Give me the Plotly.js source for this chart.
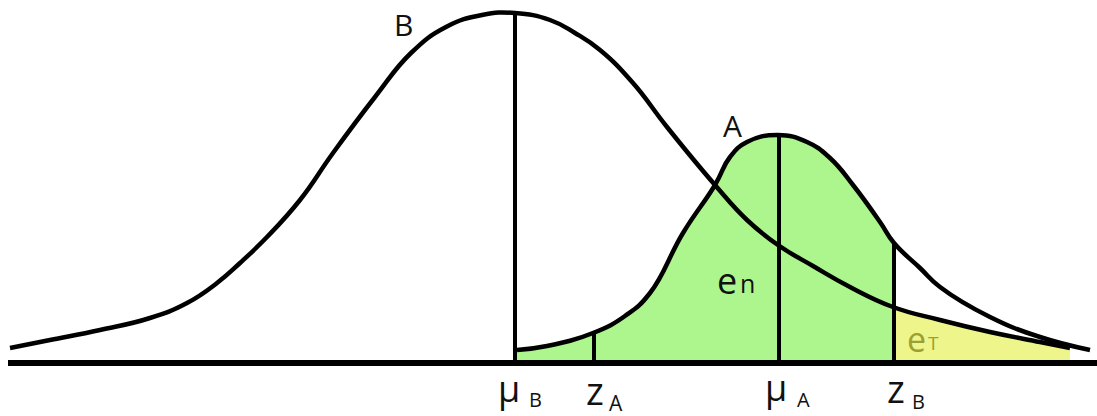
<!DOCTYPE html>
<html>
<head>
<meta charset="utf-8">
<script src="https://cdn.plot.ly/plotly-3.0.1.min.js"></script>
<style>
  html, body { margin: 0; padding: 0; background: #fff; }
  #chart { width: 1097px; height: 416px; }
</style>
</head>
<body>
<div id="chart"></div>
<script>
// curve B (wide): x position, height above baseline
const bX = [10, 50, 100, 150, 187, 217, 240, 267, 300, 333, 375, 411, 446, 482, 515, 550, 575, 600, 633, 667, 715, 747, 778, 813, 850, 893, 940, 990, 1040, 1070];
const bY = [15, 23, 33, 45, 60, 80, 100, 126, 163, 210, 266, 310, 336, 348, 350, 343, 330, 313, 280, 236, 178, 143, 118, 97, 76, 56, 43, 31, 21, 15];

// curve A (narrow)
const aX = [517, 547, 593, 625, 650, 683, 715, 730, 747, 778, 807, 830, 853, 880, 894, 920, 940, 990, 1040, 1090];
const aY = [13, 17, 30, 47, 70, 130, 178, 206, 221, 228, 221, 205, 178, 141, 120, 95, 76, 46, 26, 13];

// marker lines: mu_B, z_A, mu_A, z_B
const markX = [515, 594, 779, 894];
const markTop = [350, 31, 228, 119];

const baseX = [8, 1097];

const green = '#adf68d';
const yellow = '#edf58b';

// green area: under A from mu_B to z_B
const gX = aX.filter(x => x <= markX[3]);
const gY = aY.slice(0, gX.length);
// yellow area: under B from z_B onward
const yIdx = bX.findIndex(x => x >= markX[3] - 1);
const yX = [markX[3]].concat(bX.slice(yIdx + 1));
const yY = [bY[yIdx]].concat(bY.slice(yIdx + 1));

const traces = [];
traces.push({
    x: gX, y: gY, type: 'scatter', mode: 'lines',
    line: { width: 0, shape: 'spline', smoothing: 1.3 }, fill: 'tozeroy', fillcolor: green, hoverinfo: 'skip'
});
traces.push({
    x: yX, y: yY, type: 'scatter', mode: 'lines',
    line: { width: 0, shape: 'spline', smoothing: 1.3 }, fill: 'tozeroy', fillcolor: yellow, hoverinfo: 'skip'
});
traces.push({ x: bX, y: bY, type: 'scatter', mode: 'lines', line: { color: '#000', width: 4.5, shape: 'spline', smoothing: 1.3 } });
traces.push({ x: aX, y: aY, type: 'scatter', mode: 'lines', line: { color: '#000', width: 4.5, shape: 'spline', smoothing: 1.3 } });
markX.forEach((x, i) => {
    traces.push({ x: [x, x], y: [0, markTop[i]], type: 'scatter', mode: 'lines', line: { color: '#000', width: 4 } });
});
traces.push({ x: baseX, y: [0, 0], type: 'scatter', mode: 'lines', line: { color: '#000', width: 6 } });

const font = 'Open Sans, Liberation Sans, sans-serif';
function lab(text, x, y, size, color) {
    return { text: text, x: x, y: y, xref: 'x', yref: 'y', showarrow: false,
        xanchor: 'center', yanchor: 'middle', font: { family: font, size: size, color: color || '#111' } };
}
// positions in the same units as the curves (height above baseline)
const annotations = [
    lab('B', 403, 339, 30),
    lab('A', 732, 238, 30),
    lab('μ', 509, -25, 36), lab('B', 535, -36, 20),
    lab('z', 595, -27, 38), lab('A', 616, -40, 21),
    lab('μ', 776, -24, 36), lab('A', 803, -36, 20),
    lab('z', 896, -25, 38), lab('B', 918, -38, 20),
    lab('e', 727, 83, 36), lab('n', 747, 80, 25),
    lab('e', 916, 24, 34, '#9aa132'), lab('T', 933, 20, 19, '#9aa132')
];

Plotly.newPlot('chart', traces, {
    width: 1097, height: 416,
    margin: { l: 0, r: 0, t: 0, b: 0 },
    paper_bgcolor: '#fff', plot_bgcolor: '#fff',
    showlegend: false,
    xaxis: { range: [0, 1097], visible: false, fixedrange: true },
    yaxis: { range: [-53, 363], visible: false, fixedrange: true },
    annotations: annotations
}, { displayModeBar: false, staticPlot: true });
</script>
</body>
</html>
